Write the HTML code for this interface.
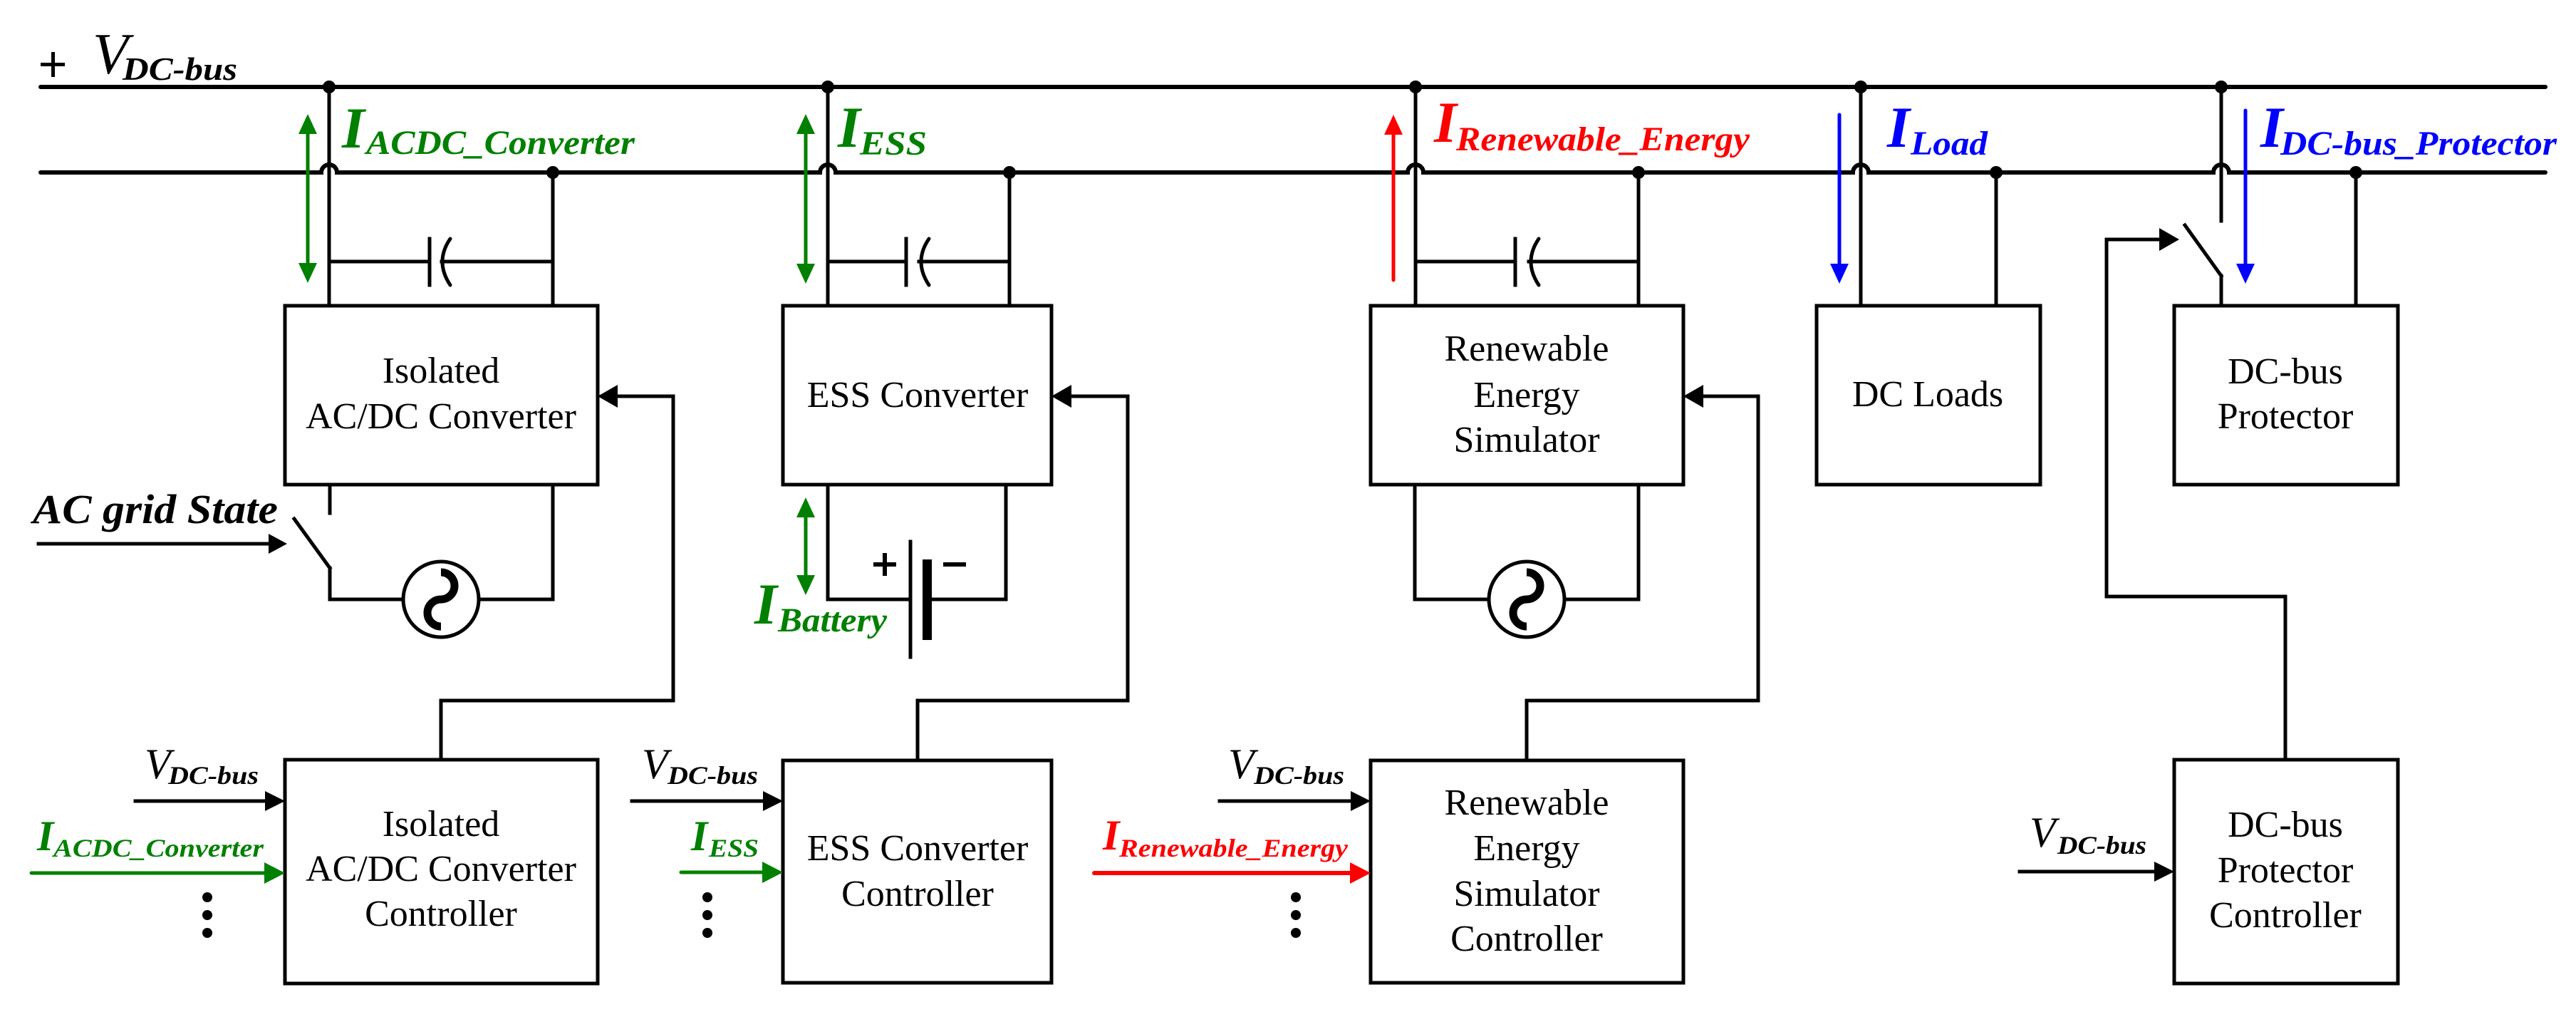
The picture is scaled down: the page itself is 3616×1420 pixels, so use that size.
<!DOCTYPE html>
<html><head><meta charset="utf-8"><style>
html,body{margin:0;padding:0;background:#fff}
svg{display:block}
.it{font-style:italic}
.bi{font-style:italic;font-weight:bold}
.bx{font-size:52px;text-anchor:middle}
</style></head><body>
<svg width="3616" height="1420" viewBox="0 0 3616 1420" xmlns="http://www.w3.org/2000/svg">
<g stroke="#000" stroke-width="6" fill="none" stroke-linecap="round">
<line x1="57" y1="122" x2="3573" y2="122"/>
<path d="M57 242 H451 A11 11 0 0 1 473 242 H1151 A11 11 0 0 1 1173 242 H1976 A11 11 0 0 1 1998 242 H2601 A11 11 0 0 1 2623 242 H3107 A11 11 0 0 1 3129 242 H3573"/>
</g>
<g fill="#000">
<circle cx="462" cy="122" r="9"/><circle cx="1162" cy="122" r="9"/><circle cx="1987" cy="122" r="9"/><circle cx="2612" cy="122" r="9"/><circle cx="3118" cy="122" r="9"/>
<circle cx="776" cy="242" r="9"/><circle cx="1417" cy="242" r="9"/><circle cx="2300" cy="242" r="9"/><circle cx="2802" cy="242" r="9"/><circle cx="3307" cy="242" r="9"/>
</g>
<g stroke="#000" stroke-width="5" fill="none" stroke-linecap="square">
<line x1="462" y1="122" x2="462" y2="429"/>
<line x1="776" y1="242" x2="776" y2="429"/>
<line x1="462" y1="367" x2="603" y2="367"/><line x1="603" y1="335" x2="603" y2="400"/>
<path d="M632 335 Q610 367 632 400" stroke-linecap="round"/>
<line x1="620" y1="367" x2="776" y2="367"/>
<rect x="400" y="429" width="439" height="251"/>
<line x1="463" y1="681" x2="463" y2="720"/>
<line x1="413" y1="728" x2="463" y2="797"/>
<polyline points="463,797 463,841 566,841"/>
<polyline points="672,841 776,841 776,681"/>
<circle cx="619" cy="841" r="53"/>
<rect x="400" y="1066" width="439" height="314"/>
<polyline points="619,1066 619,983 945,983 945,556 860,556"/>
<line x1="1162" y1="122" x2="1162" y2="429"/>
<line x1="1417" y1="242" x2="1417" y2="429"/>
<line x1="1162" y1="367" x2="1272" y2="367"/><line x1="1272" y1="335" x2="1272" y2="400"/>
<path d="M1304 335 Q1282 367 1304 400" stroke-linecap="round"/>
<line x1="1290" y1="367" x2="1417" y2="367"/>
<rect x="1099" y="429" width="377" height="251"/>
<polyline points="1162,680 1162,841 1278,841"/>
<polyline points="1301,841 1412,841 1412,680"/>
<line x1="1278" y1="760" x2="1278" y2="922"/>
<rect x="1099" y="1067" width="377" height="312"/>
<polyline points="1288,1067 1288,983 1583,983 1583,556 1497,556"/>
<line x1="1987" y1="122" x2="1987" y2="429"/>
<line x1="2300" y1="242" x2="2300" y2="429"/>
<line x1="1987" y1="367" x2="2127" y2="367"/><line x1="2127" y1="335" x2="2127" y2="400"/>
<path d="M2160 335 Q2138 367 2160 400" stroke-linecap="round"/>
<line x1="2146" y1="367" x2="2300" y2="367"/>
<rect x="1924" y="429" width="439" height="251"/>
<polyline points="1986,680 1986,841 2090,841"/>
<polyline points="2196,841 2300,841 2300,680"/>
<circle cx="2143" cy="841" r="53"/>
<rect x="1924" y="1067" width="439" height="312"/>
<polyline points="2143,1067 2143,983 2468,983 2468,556 2384,556"/>
<line x1="2612" y1="122" x2="2612" y2="429"/>
<line x1="2802" y1="242" x2="2802" y2="429"/>
<rect x="2550" y="429" width="314" height="251"/>
<line x1="3118" y1="122" x2="3118" y2="310"/>
<line x1="3067" y1="316" x2="3118" y2="387"/>
<line x1="3118" y1="387" x2="3118" y2="429"/>
<line x1="3307" y1="242" x2="3307" y2="429"/>
<rect x="3052" y="429" width="314" height="251"/>
<rect x="3052" y="1066" width="314" height="314"/>
<polyline points="3208,1066 3208,837 2957,837 2957,336 3036,336"/>
<line x1="54" y1="763" x2="385" y2="763"/>
<line x1="190" y1="1124" x2="380" y2="1124"/>
<line x1="887" y1="1124" x2="1080" y2="1124"/>
<line x1="1712" y1="1124" x2="1905" y2="1124"/>
<line x1="2835" y1="1223" x2="3033" y2="1223"/>
</g>
<rect x="1295" y="785" width="13" height="113" fill="#000"/>
<rect x="1226" y="789" width="32" height="6" fill="#000"/>
<rect x="1239" y="776" width="6" height="32" fill="#000"/>
<rect x="1324" y="789" width="32" height="6" fill="#000"/>
<g stroke="#000" stroke-width="11" fill="none">
<path d="M619 803 A19 19 0 0 1 619 841 A19 19 0 0 0 619 879"/>
<path d="M2143 803 A19 19 0 0 1 2143 841 A19 19 0 0 0 2143 879"/>
</g>
<g fill="#000">
<polygon points="839,556 867,540 867,572"/>
<polygon points="1476,556 1504,540 1504,572"/>
<polygon points="2363,556 2391,540 2391,572"/>
<polygon points="3059,336 3031,320 3031,352"/>
<polygon points="403,763 377,749 377,777"/>
<polygon points="400,1124 372,1110 372,1138"/>
<polygon points="1099,1124 1071,1110 1071,1138"/>
<polygon points="1924,1124 1896,1110 1896,1138"/>
<polygon points="3052,1223 3024,1209 3024,1237"/>
<circle cx="291" cy="1259" r="7"/><circle cx="291" cy="1284" r="7"/><circle cx="291" cy="1309" r="7"/>
<circle cx="993" cy="1259" r="7"/><circle cx="993" cy="1284" r="7"/><circle cx="993" cy="1309" r="7"/>
<circle cx="1819" cy="1259" r="7"/><circle cx="1819" cy="1284" r="7"/><circle cx="1819" cy="1309" r="7"/>
</g>
<g stroke="#008000" stroke-width="5" stroke-linecap="round">
<line x1="432" y1="185" x2="432" y2="372"/>
<line x1="1131" y1="185" x2="1131" y2="372"/>
<line x1="1131" y1="722" x2="1131" y2="810"/>
<line x1="44" y1="1225" x2="375" y2="1225"/>
<line x1="956" y1="1224" x2="1075" y2="1224"/>
</g>
<g fill="#008000">
<polygon points="432,160 419,188 445,188"/><polygon points="432,397 419,369 445,369"/>
<polygon points="1131,160 1118,188 1144,188"/><polygon points="1131,398 1118,370 1144,370"/>
<polygon points="1131,698 1118,726 1144,726"/><polygon points="1131,835 1118,807 1144,807"/>
<polygon points="400,1225 371,1210 371,1240"/>
<polygon points="1099,1224 1070,1209 1070,1239"/>
</g>
<line x1="1956" y1="185" x2="1956" y2="393" stroke="#f00" stroke-width="5" stroke-linecap="round"/>
<polygon points="1956,161 1943,189 1969,189" fill="#f00"/>
<line x1="1536" y1="1225" x2="1900" y2="1225" stroke="#f00" stroke-width="6" stroke-linecap="round"/>
<polygon points="1924,1225 1895,1210 1895,1240" fill="#f00"/>
<g stroke="#00f" stroke-width="5" stroke-linecap="round">
<line x1="2582" y1="161" x2="2582" y2="372"/>
<line x1="3152" y1="155" x2="3152" y2="372"/>
</g>
<g fill="#00f">
<polygon points="2582,398 2569,370 2595,370"/>
<polygon points="3152,398 3139,370 3165,370"/>
</g>
<rect x="57" y="88" width="34" height="5" fill="#000"/>
<rect x="72" y="73" width="5" height="35" fill="#000"/>
<g style="font-family:'Liberation Serif','Times New Roman','Noto Serif CJK SC','Noto Serif','DejaVu Serif',serif">
<g class="bx">
<text x="619" y="537">Isolated</text>
<text x="619" y="601">AC/DC Converter</text>
<text x="1288" y="571">ESS Converter</text>
<text x="2143" y="506">Renewable</text>
<text x="2143" y="571">Energy</text>
<text x="2143" y="634">Simulator</text>
<text x="2706" y="570">DC Loads</text>
<text x="3208" y="538">DC-bus</text>
<text x="3208" y="601">Protector</text>
<text x="619" y="1173">Isolated</text>
<text x="619" y="1236">AC/DC Converter</text>
<text x="619" y="1299">Controller</text>
<text x="1288" y="1207">ESS Converter</text>
<text x="1288" y="1271">Controller</text>
<text x="2143" y="1143">Renewable</text>
<text x="2143" y="1207">Energy</text>
<text x="2143" y="1271">Simulator</text>
<text x="2143" y="1334">Controller</text>
<text x="3208" y="1174">DC-bus</text>
<text x="3208" y="1238">Protector</text>
<text x="3208" y="1301">Controller</text>
</g>
<text x="130" y="103" font-size="82" class="it">V</text>
<text x="172" y="112" font-size="46" class="bi" textLength="161" lengthAdjust="spacingAndGlyphs">DC-bus</text>
<g fill="#008000">
<text x="480" y="207" font-size="82" class="bi">I</text>
<text x="514" y="216" font-size="48" class="bi" textLength="377" lengthAdjust="spacingAndGlyphs">ACDC_Converter</text>
<text x="1176" y="206" font-size="82" class="bi">I</text>
<text x="1207" y="217" font-size="48" class="bi" textLength="94" lengthAdjust="spacingAndGlyphs">ESS</text>
<text x="1059" y="875" font-size="82" class="bi">I</text>
<text x="1092" y="886" font-size="48" class="bi" textLength="153" lengthAdjust="spacingAndGlyphs">Battery</text>
<text x="52" y="1193" font-size="60" class="bi">I</text>
<text x="75" y="1202" font-size="36" class="bi" textLength="295" lengthAdjust="spacingAndGlyphs">ACDC_Converter</text>
<text x="970" y="1193" font-size="60" class="bi">I</text>
<text x="995" y="1202" font-size="36" class="bi" textLength="70" lengthAdjust="spacingAndGlyphs">ESS</text>
</g>
<g fill="#f00">
<text x="2013" y="199" font-size="82" class="bi">I</text>
<text x="2044" y="211" font-size="48" class="bi" textLength="412" lengthAdjust="spacingAndGlyphs">Renewable_Energy</text>
<text x="1548" y="1192" font-size="60" class="bi">I</text>
<text x="1571" y="1202" font-size="36" class="bi" textLength="321" lengthAdjust="spacingAndGlyphs">Renewable_Energy</text>
</g>
<g fill="#00f">
<text x="2649" y="206" font-size="82" class="bi">I</text>
<text x="2682" y="217" font-size="48" class="bi" textLength="108" lengthAdjust="spacingAndGlyphs">Load</text>
<text x="3173" y="206" font-size="82" class="bi">I</text>
<text x="3201" y="217" font-size="48" class="bi" textLength="388" lengthAdjust="spacingAndGlyphs">DC-bus_Protector</text>
</g>
<text x="46" y="734" font-size="58" class="bi" textLength="344" lengthAdjust="spacingAndGlyphs">AC grid State</text>
<text x="203" y="1092" font-size="60" class="it">V</text>
<text x="236" y="1100" font-size="36" class="bi" textLength="127" lengthAdjust="spacingAndGlyphs">DC-bus</text>
<text x="901" y="1092" font-size="60" class="it">V</text>
<text x="937" y="1100" font-size="36" class="bi" textLength="127" lengthAdjust="spacingAndGlyphs">DC-bus</text>
<text x="1724" y="1092" font-size="60" class="it">V</text>
<text x="1760" y="1100" font-size="36" class="bi" textLength="127" lengthAdjust="spacingAndGlyphs">DC-bus</text>
<text x="2849" y="1188" font-size="60" class="it">V</text>
<text x="2888" y="1198" font-size="36" class="bi" textLength="125" lengthAdjust="spacingAndGlyphs">DC-bus</text>
</g>
</svg>
</body></html>
